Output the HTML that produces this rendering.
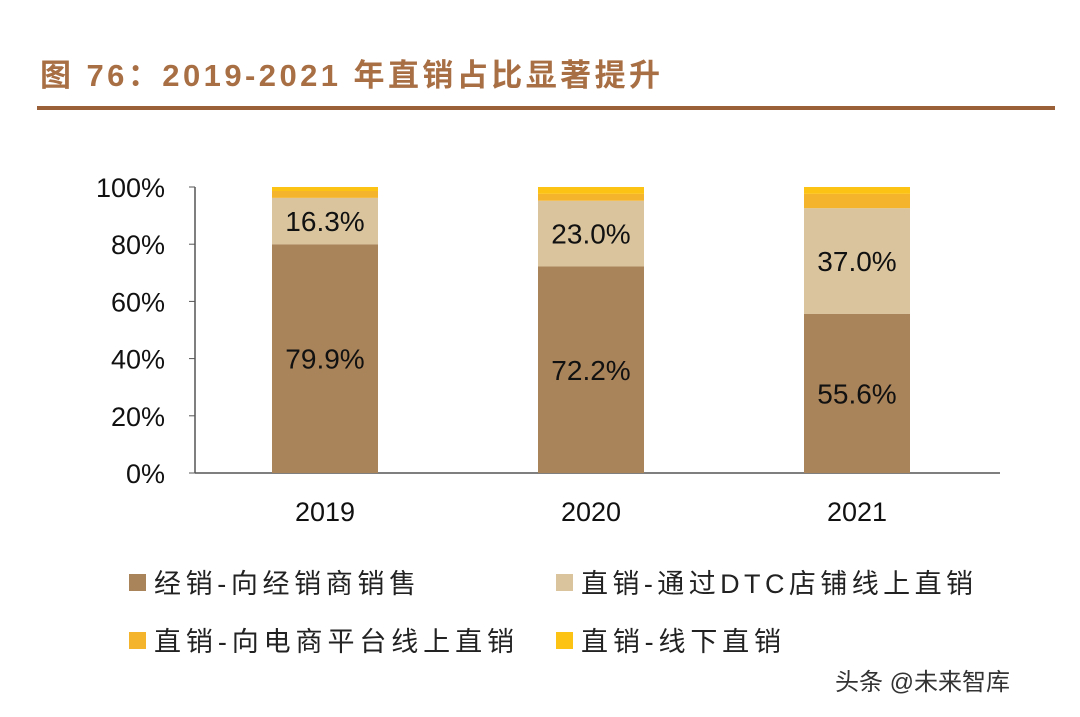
<!DOCTYPE html>
<html><head><meta charset="utf-8"><style>
body{margin:0;background:#fff;width:1080px;height:712px;overflow:hidden;font-family:"Liberation Sans","Noto Sans CJK SC",sans-serif}
</style></head><body>
<svg width="1080" height="712" font-family="Liberation Sans, Noto Sans CJK SC, sans-serif">
<text x="40" y="86" font-size="31" font-weight="bold" fill="#a86f45" textLength="620" lengthAdjust="spacing">图 76：2019-2021 年直销占比显著提升</text>
<rect x="37" y="106" width="1018" height="4" fill="#9a6038"/>
<g id="axes"></g><g id="bars"></g>
<g font-size="27" fill="#222">
<rect x="129" y="574" width="17" height="17" fill="#a9835a"/>
<text x="154" y="593" textLength="262" lengthAdjust="spacing">经销-向经销商销售</text>
<rect x="556" y="574" width="17" height="17" fill="#d9c49e"/>
<text x="581" y="593" textLength="392" lengthAdjust="spacing">直销-通过DTC店铺线上直销</text>
<rect x="129" y="632" width="17" height="17" fill="#f4b52c"/>
<text x="154" y="651" textLength="360" lengthAdjust="spacing">直销-向电商平台线上直销</text>
<rect x="556" y="632" width="17" height="17" fill="#fcc314"/>
<text x="581" y="651" textLength="200" lengthAdjust="spacing">直销-线下直销</text>
</g>
<text x="835" y="690" font-size="24" fill="#333">头条 @未来智库</text>
</svg>
<script>
const categories=["2019","2020","2021"];
const distributor=[79.9,72.2,55.6];
const dtc=[16.3,23.0,37.0];
const platform=[2.4,2.4,5.0];
const offline=[1.4,2.4,2.4];
const yTicks=[0,20,40,60,80,100];
const ns="http://www.w3.org/2000/svg";
const y0=473,y100=187,axL=195,axR=1000;
const y=v=>y0-(v/100)*(y0-y100);
const xc=i=>325+i*266;
function mk(t,a,p){const e=document.createElementNS(ns,t);for(const k in a)e.setAttribute(k,a[k]);p.appendChild(e);return e;}
const ax=document.getElementById('axes'),bg=document.getElementById('bars');
let l=mk('line',{x1:axL,x2:axL,y1:y0,y2:y100,stroke:'#555','stroke-width':1.5},ax);


l=mk('line',{x1:axL,x2:axR,y1:y0,y2:y0,stroke:'#555','stroke-width':1.5},ax);


yTicks.forEach(v=>{
 mk('line',{x1:axL-6,x2:axL,y1:y(v),y2:y(v),stroke:'#555'},ax);
 const t=mk('text',{x:165,y:y(v)+10,'text-anchor':'end','font-size':27,fill:'#111'},ax);
 t.textContent=v+'%';
 
 
});
const series=[[distributor,'#a9835a','distributor'],[dtc,'#d9c49e','dtc'],[platform,'#f4b52c','platform'],[offline,'#fcc314','offline']];
categories.forEach((c,i)=>{
 let acc=0;
 series.forEach(([arr,col,nm],si)=>{
  const v=arr[i];
  const r=mk('rect',{x:xc(i)-53,width:106,y:y(acc+v),height:y(acc)-y(acc+v),fill:col},bg);
  
  
  if(si<2){
   const t=mk('text',{x:xc(i),y:(y(acc)+y(acc+v))/2+10,'text-anchor':'middle','font-size':28,fill:'#111'},bg);
   t.textContent=v.toFixed(1)+'%';
   
   
  }
  acc+=v;
 });
 const t=mk('text',{x:xc(i),y:521,'text-anchor':'middle','font-size':27,fill:'#111'},ax);
 t.textContent=c;
 
 
});
</script>
</body></html>
